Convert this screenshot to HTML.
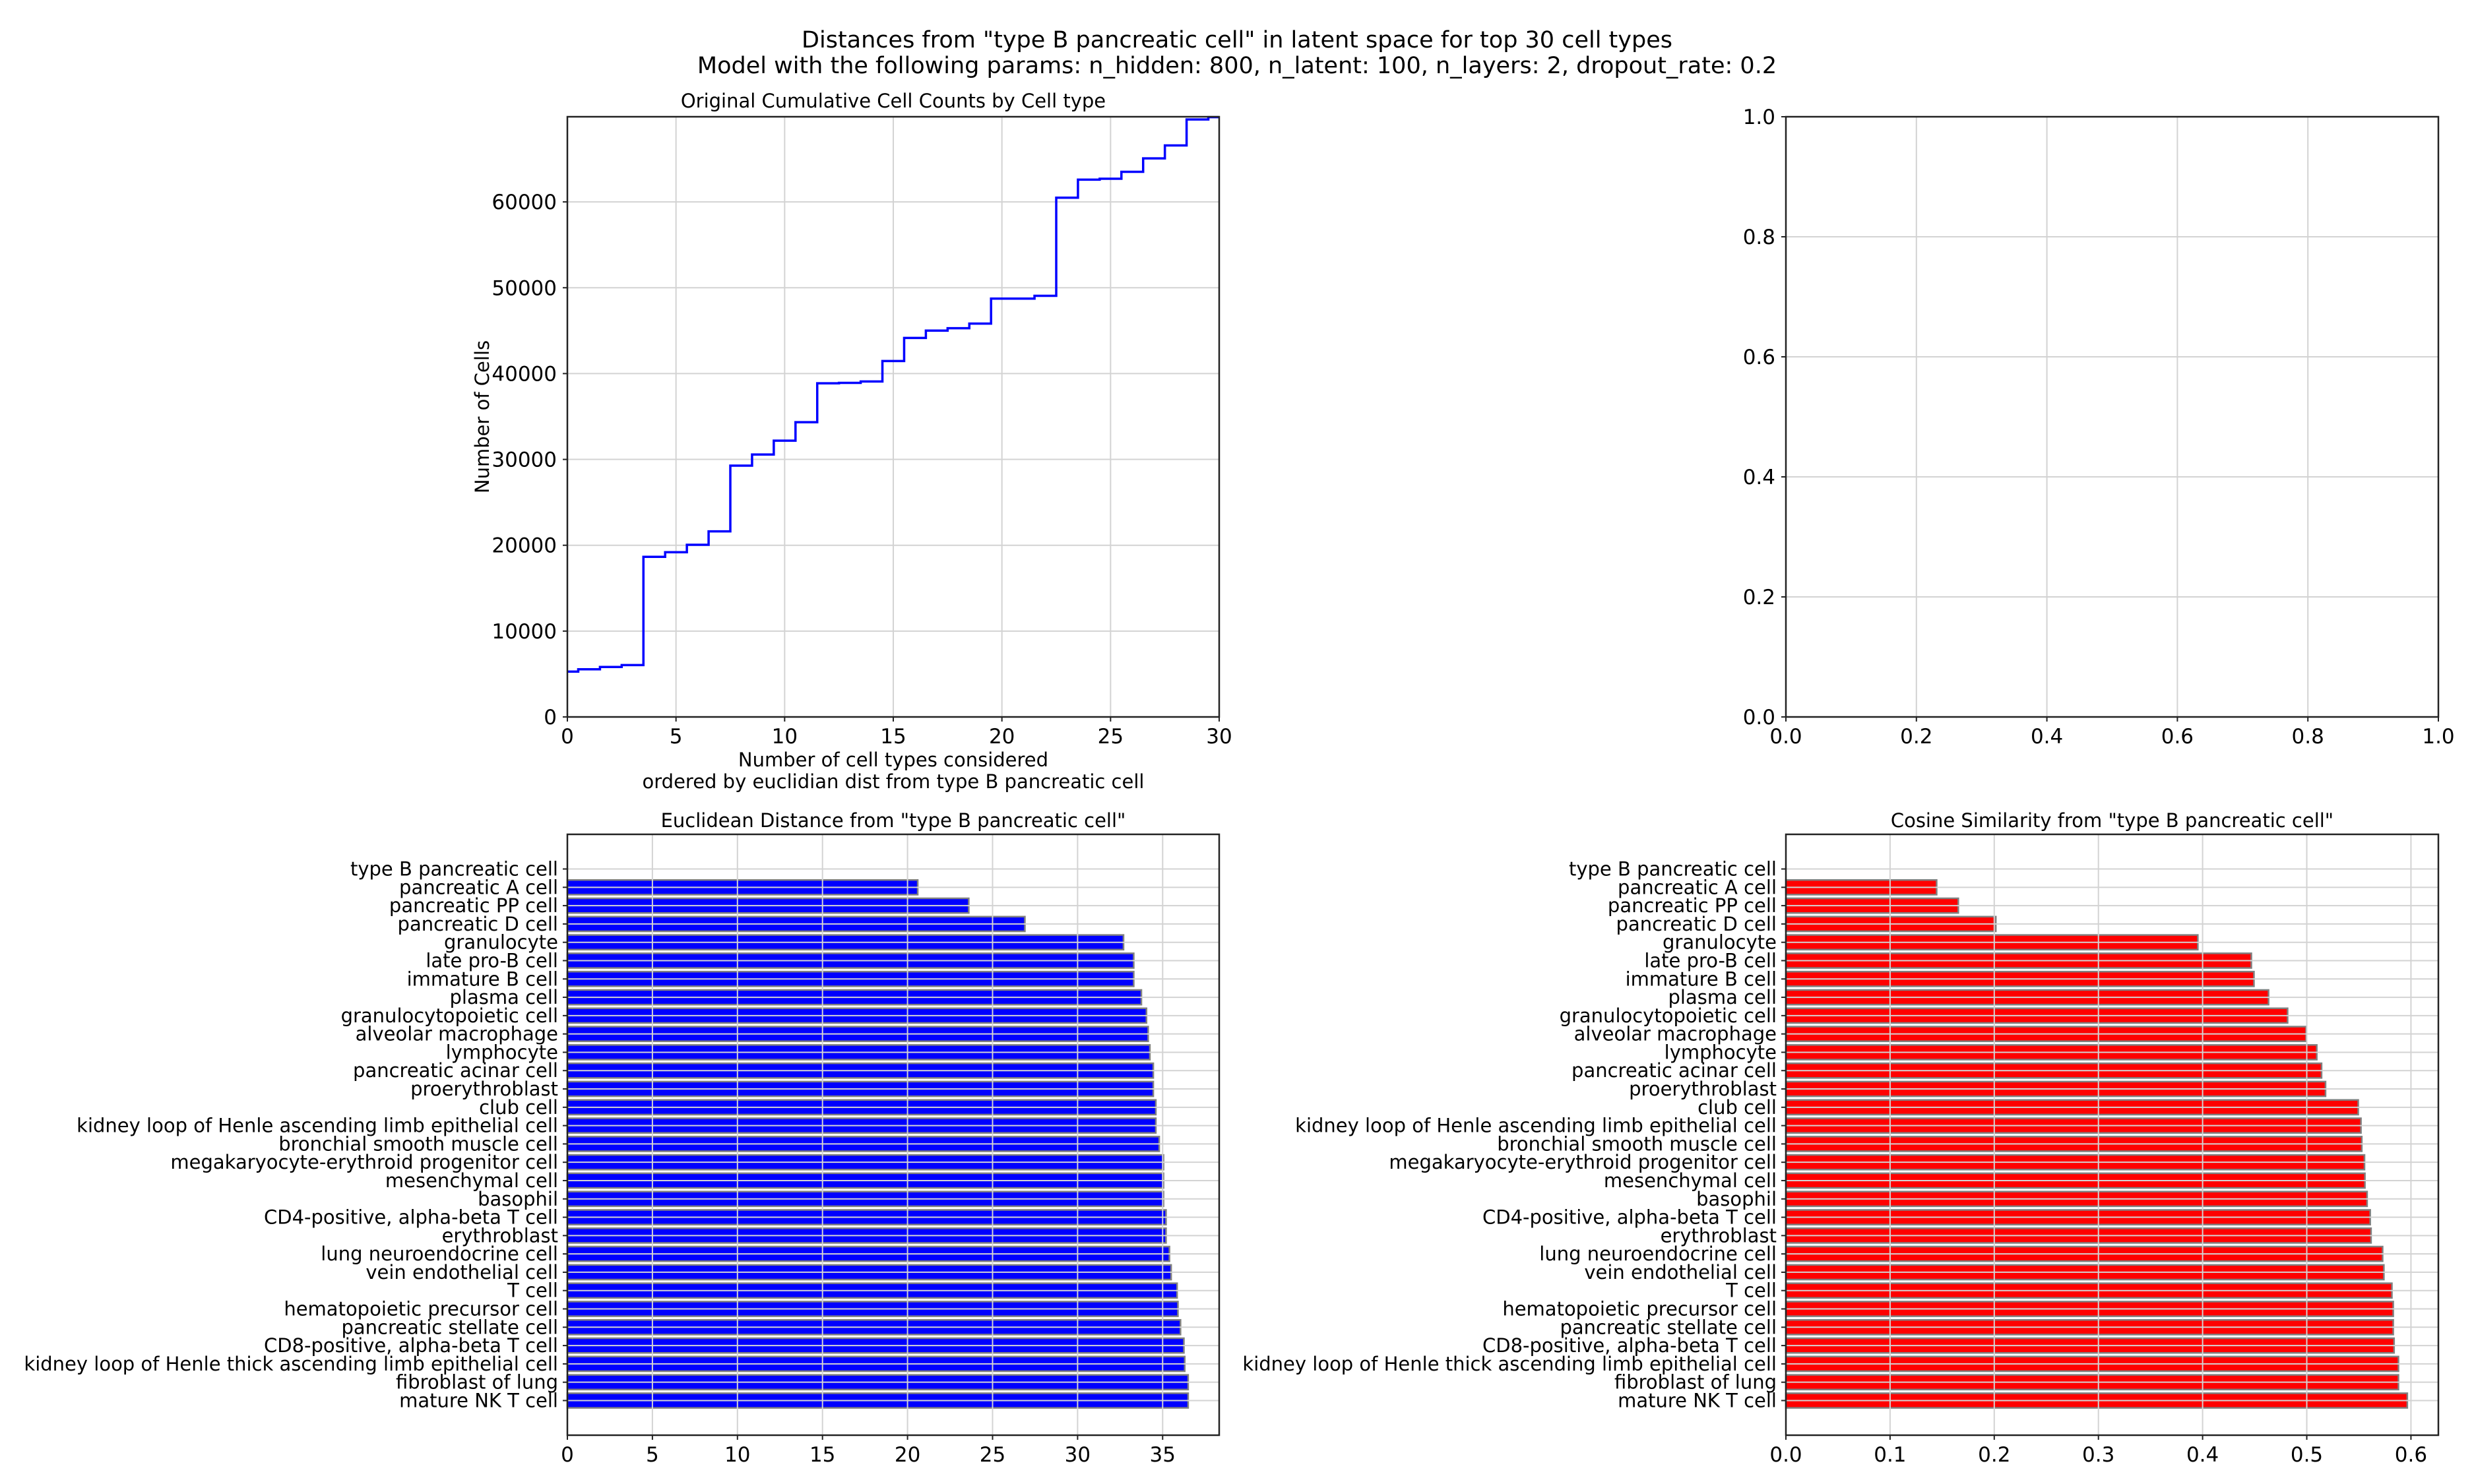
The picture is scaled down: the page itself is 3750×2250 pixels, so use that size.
<!DOCTYPE html>
<html><head><meta charset="utf-8"><style>
html,body{margin:0;padding:0;background:#fff;}
svg{display:block;font-family:"DejaVu Sans","Liberation Sans",sans-serif;}
</style></head><body>
<svg id="fig" width="3750" height="2250" viewBox="0 0 3750 2250" xmlns="http://www.w3.org/2000/svg">
<rect width="3750" height="2250" fill="#fff"/>
<text x="1875" y="72" font-size="35" text-anchor="middle">Distances from "type B pancreatic cell" in latent space for top 30 cell types</text>
<text x="1875" y="111" font-size="35" text-anchor="middle">Model with the following params: n_hidden: 800, n_latent: 100, n_layers: 2, dropout_rate: 0.2</text>
</svg>
<script>
const cumCounts=[5280,5550,5820,6040,18650,19190,20050,21620,29270,30570,32180,34340,38870,38920,39080,41460,44150,45010,45280,45820,48730,48730,49060,60490,62590,62700,63500,65070,66580,69600,69870];
const cumXTicks=[0,5,10,15,20,25,30];
const cumYTicks=[0,10000,20000,30000,40000,50000,60000];
const cellTypes=["type B pancreatic cell","pancreatic A cell","pancreatic PP cell","pancreatic D cell","granulocyte","late pro-B cell","immature B cell","plasma cell","granulocytopoietic cell","alveolar macrophage","lymphocyte","pancreatic acinar cell","proerythroblast","club cell","kidney loop of Henle ascending limb epithelial cell","bronchial smooth muscle cell","megakaryocyte-erythroid progenitor cell","mesenchymal cell","basophil","CD4-positive, alpha-beta T cell","erythroblast","lung neuroendocrine cell","vein endothelial cell","T cell","hematopoietic precursor cell","pancreatic stellate cell","CD8-positive, alpha-beta T cell","kidney loop of Henle thick ascending limb epithelial cell","fibroblast of lung","mature NK T cell"];
const euclidValues=[0,20.6,23.6,26.9,32.7,33.3,33.3,33.75,34.05,34.15,34.25,34.45,34.45,34.6,34.6,34.8,35.05,35.05,35.05,35.2,35.2,35.4,35.5,35.85,35.9,36.05,36.25,36.3,36.5,36.5];
const cosineValues=[0,0.1447,0.1655,0.2015,0.3954,0.4468,0.4493,0.4633,0.4816,0.4994,0.5096,0.5142,0.518,0.5494,0.552,0.5528,0.5554,0.5558,0.5579,0.5609,0.5617,0.5728,0.574,0.5817,0.583,0.583,0.5838,0.588,0.588,0.5965];
const euclidTicks=[0,5,10,15,20,25,30,35];
const cosineTicks=[0,0.1,0.2,0.3,0.4,0.5,0.6];
const emptyTicks=[0,0.2,0.4,0.6,0.8,1.0];

const NS="http://www.w3.org/2000/svg";
const svg=document.getElementById('fig');
function mk(tag,attrs,parent){const e=document.createElementNS(NS,tag);for(const k in attrs)e.setAttribute(k,attrs[k]);(parent||svg).appendChild(e);return e;}
function txt(s,attrs,parent){const e=mk('text',attrs,parent);e.textContent=s;return e;}
const FS=29,TFS=31,GRID="#d3d3d3",TICK=7;

function makeAxes(name,x0,x1,y0,y1,xmin,xmax,ymin,ymax){
  const g=mk('g',{});
  
  
  return {g,x0,x1,y0,y1,sx:v=>x0+(v-xmin)/(xmax-xmin)*(x1-x0),sy:v=>y1-(v-ymin)/(ymax-ymin)*(y1-y0)};
}
function grids(a,xt,yt){
  const gg=mk('g',{},a.g);
  
  
  xt.forEach(v=>mk('line',{x1:a.sx(v),x2:a.sx(v),y1:a.y0,y2:a.y1,stroke:GRID,'stroke-width':2},gg));
  yt.forEach(v=>mk('line',{x1:a.x0,x2:a.x1,y1:a.sy(v),y2:a.sy(v),stroke:GRID,'stroke-width':2},gg));
}
function frame(a,xt,xl,yt,yl){
  const f=mk('rect',{x:a.x0,y:a.y0,width:a.x1-a.x0,height:a.y1-a.y0,fill:'none',stroke:'#222','stroke-width':2.5},a.g);
  
  
  xt.forEach((v,i)=>{const x=a.sx(v);mk('line',{x1:x,x2:x,y1:a.y1,y2:a.y1+TICK,stroke:'#222','stroke-width':2},a.g);
    const t=txt(xl[i],{x:x,y:a.y1+40,'font-size':TFS,'text-anchor':'middle'},a.g);
    
    });
  yt.forEach((v,i)=>{const y=a.sy(v);mk('line',{x1:a.x0-TICK,x2:a.x0,y1:y,y2:y,stroke:'#222','stroke-width':2},a.g);
    const t=txt(yl[i],{x:a.x0-16,y:y+11,'font-size':TFS,'text-anchor':'end'},a.g);
    
    });
}

// Top-left cumulative step chart
const A=makeAxes('cumulative-counts-chart',860,1848,177,1087,0,30,0,69920);
grids(A,cumXTicks,cumYTicks.slice(1));
let d='';
cumCounts.forEach((v,i)=>{
  const xs=Math.max(0,i-0.5),xe=Math.min(30,i+0.5);
  d+=(i===0?'M':'L')+A.sx(xs)+','+A.sy(v)+'L'+A.sx(xe)+','+A.sy(v);
});
const stepLine=mk('path',{d:d,fill:'none',stroke:'#0000ff','stroke-width':3.5},A.g);


frame(A,cumXTicks,cumXTicks.map(String),cumYTicks,cumYTicks.map(String));
let t=txt('Original Cumulative Cell Counts by Cell type',{x:1354,y:163,'font-size':FS,'text-anchor':'middle'},A.g);


t=txt('Number of cell types considered',{x:1354,y:1162,'font-size':FS,'text-anchor':'middle'},A.g);


t=txt('ordered by euclidian dist from type B pancreatic cell',{x:1354,y:1195,'font-size':FS,'text-anchor':'middle'},A.g);


t=txt('Number of Cells',{x:0,y:0,'font-size':FS,'text-anchor':'middle',transform:'translate(741,632) rotate(-90)'},A.g);



// Top-right empty axes
const E=makeAxes('empty-axes',2707,3696,177,1087,0,1,0,1);
grids(E,emptyTicks,emptyTicks);
frame(E,emptyTicks,emptyTicks.map(v=>v.toFixed(1)),emptyTicks,emptyTicks.map(v=>v.toFixed(1)));

// Bar charts
function barChart(name,x0,x1,values,ticks,labels,color,title){
  const n=values.length,xmax=Math.max(...values)*1.05;
  const ymin=-0.4-0.05*(n-0.2),ymax=n-1+0.4+0.05*(n-0.2);
  const B=makeAxes(name,x0,x1,1265,2176,0,xmax,ymin,ymax);
  const sy=i=>B.sy(n-1-i);
  values.forEach((v,i)=>{
    const r=mk('rect',{x:B.sx(0),y:sy(i)-(B.sy(0)-B.sy(0.4)),width:B.sx(v)-B.sx(0),height:(B.sy(0)-B.sy(0.8)),fill:color,stroke:'#808080','stroke-width':2.5},B.g);
    
    
  });
  const gg=mk('g',{},B.g);
  
  
  ticks.forEach(v=>mk('line',{x1:B.sx(v),x2:B.sx(v),y1:B.y0,y2:B.y1,stroke:GRID,'stroke-width':2},gg));
  values.forEach((v,i)=>mk('line',{x1:B.x0,x2:B.x1,y1:sy(i),y2:sy(i),stroke:GRID,'stroke-width':2},gg));
  const f=mk('rect',{x:B.x0,y:B.y0,width:B.x1-B.x0,height:B.y1-B.y0,fill:'none',stroke:'#222','stroke-width':2.5},B.g);
  
  
  ticks.forEach(v=>{const x=B.sx(v);mk('line',{x1:x,x2:x,y1:B.y1,y2:B.y1+TICK,stroke:'#222','stroke-width':2},B.g);
    const tt=txt(ticks===cosineTicks?v.toFixed(1):String(v),{x:x,y:B.y1+40,'font-size':TFS,'text-anchor':'middle'},B.g);
    
    });
  labels.forEach((s,i)=>{const y=sy(i);mk('line',{x1:B.x0-TICK,x2:B.x0,y1:y,y2:y,stroke:'#222','stroke-width':2},B.g);
    const tt=txt(s,{x:B.x0-14,y:y+10,'font-size':FS,'text-anchor':'end'},B.g);
    
    });
  const ti=txt(title,{x:(x0+x1)/2,y:1254,'font-size':FS,'text-anchor':'middle'},B.g);
  
  
}
barChart('euclidean-distance-chart',860,1848,euclidValues,euclidTicks,cellTypes,'#0000ff','Euclidean Distance from "type B pancreatic cell"');
barChart('cosine-similarity-chart',2707,3696,cosineValues,cosineTicks,cellTypes,'#ff0000','Cosine Similarity from "type B pancreatic cell"');
</script>
</body></html>
